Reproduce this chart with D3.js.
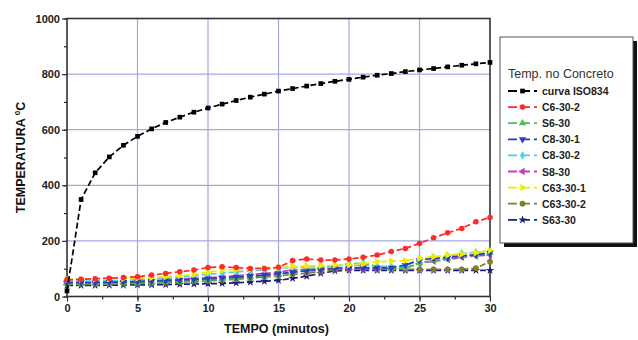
<!DOCTYPE html>
<html><head><meta charset="utf-8">
<script src="https://cdn.jsdelivr.net/npm/d3@7"></script>
<style>
html,body{margin:0;padding:0;background:#fff;}
svg{display:block;font-family:"Liberation Sans",Arial,sans-serif;}
</style></head>
<body><svg id="chart" width="638" height="340"></svg>
<script>
const minutes = [0,1,2,3,4,5,6,7,8,9,10,11,12,13,14,15,16,17,18,19,20,21,22,23,24,25,26,27,28,29,30];
const iso834   = [20,349,445,502,544,576,603,626,645,663,678,692,705,717,728,739,748,757,766,774,781,789,796,802,809,815,820,826,832,837,842];
const c6_30_2  = [60,62,64,66,68,71,77,83,89,95,104,107,104,101,101,105,129,135,131,131,135,141,149,162,173,191,211,229,245,269,284];
const s6_30    = [47,47,47,48,49,50,51,53,55,57,59,63,67,71,76,80,88,95,103,110,118,120,108,100,103,120,130,137,145,150,158];
const c8_30_1  = [50,50,50,51,52,53,55,57,59,61,64,67,70,73,77,82,87,92,97,101,104,103,103,103,113,131,137,140,147,150,157];
const c8_30_2  = [55,55,56,57,58,60,62,65,69,74,80,84,88,92,96,102,104,106,108,110,112,112,110,108,110,133,141,145,155,159,163];
const s8_30    = [52,52,52,53,54,55,57,59,62,65,67,71,75,79,83,88,95,97,99,101,102,101,100,100,102,119,127,133,141,146,149];
const c63_30_1 = [62,62,63,64,65,66,68,71,75,80,87,94,97,99,101,104,108,110,111,112,113,118,125,127,129,137,143,149,153,157,166];
const c63_30_2 = [45,45,45,46,46,47,48,50,52,54,56,59,62,66,70,74,79,84,90,96,98,98,98,98,98,98,98,98,98,102,125];
const s63_30   = [40,40,40,41,41,42,42,43,44,45,46,47,49,52,55,58,65,73,83,92,94,94,94,94,94,94,94,94,94,94,94];
const seriesNames = ["curva ISO834","C6-30-2","S6-30","C8-30-1","C8-30-2","S8-30","C63-30-1","C63-30-2","S63-30"];
const seriesValues = [iso834,c6_30_2,s6_30,c8_30_1,c8_30_2,s8_30,c63_30_1,c63_30_2,s63_30];
const xTicks = [0,5,10,15,20,25,30];
const yTicks = [0,200,400,600,800,1000];
const legendTitle = "Temp. no Concreto";

const colors = ["#000000","#ff2a2a","#4cbf4c","#2a3fbf","#4cd2e6","#c23fc2","#f0ec00","#7f7f2a","#1c1c80"];
const symbols = [
  {t:d3.symbolSquare,r:0,s:22},{t:d3.symbolCircle,r:0,s:24},{t:d3.symbolTriangle,r:0,s:24},
  {t:d3.symbolTriangle,r:180,s:24},{t:d3.symbolDiamond,r:0,s:22},{t:d3.symbolTriangle,r:-90,s:24},
  {t:d3.symbolTriangle,r:90,s:24},{t:d3.symbolCircle,r:0,s:26},{t:d3.symbolStar,r:0,s:22}];

const svg = d3.select("#chart");
const L=67,R=490,T=18.5,B=296.5;
const x = d3.scaleLinear().domain([0,30]).range([L,R]);
const y = d3.scaleLinear().domain([0,1000]).range([B,T]);

// grid
const g = svg.append("g");
g.selectAll("line.gx").data(xTicks.slice(1,-1)).enter().append("line")
  .attr("x1",d=>x(d)).attr("x2",d=>x(d)).attr("y1",T).attr("y2",B)
  .attr("stroke","#a4a8e0").attr("stroke-width",1.2);
g.selectAll("line.gy").data(yTicks.slice(1,-1)).enter().append("line")
  .attr("y1",d=>y(d)).attr("y2",d=>y(d)).attr("x1",L).attr("x2",R)
  .attr("stroke","#a4a8e0").attr("stroke-width",1.2);

// minor ticks
const xMinor = d3.range(0,30.01,2.5);
const yMinor = d3.range(0,1000.1,100);
svg.append("g").attr("transform",`translate(0,${B})`)
  .call(d3.axisBottom(x).tickValues(xMinor).tickSize(3).tickFormat(""))
  .call(a=>a.select(".domain").remove());
svg.append("g").attr("transform",`translate(${L},0)`)
  .call(d3.axisLeft(y).tickValues(yMinor).tickSize(3).tickFormat(""))
  .call(a=>a.select(".domain").remove());

// major axes
const xa = svg.append("g").attr("transform",`translate(0,${B})`)
  .call(d3.axisBottom(x).tickValues(xTicks).tickSize(5).tickPadding(3).tickFormat(d3.format("d")));
const ya = svg.append("g").attr("transform",`translate(${L},0)`)
  .call(d3.axisLeft(y).tickValues(yTicks).tickSize(5).tickPadding(2).tickFormat(d3.format("d")));
[xa,ya].forEach(a=>{a.selectAll("text").attr("font-size",11).attr("font-weight","bold").attr("fill","#222")
  .attr("font-family","'Liberation Sans',Arial,sans-serif");
  a.selectAll("line").attr("stroke","#333").attr("stroke-width",1.2);
  a.select(".domain").remove();});

// frame
svg.append("rect").attr("x",L).attr("y",T).attr("width",R-L).attr("height",B-T)
  .attr("fill","none").attr("stroke","#333").attr("stroke-width",1.6);

// series
const line = d3.line().x((d,i)=>x(minutes[i])).y(d=>y(d));
const order = [8,7,5,2,4,3,6,1,0];
order.forEach(k=>{
  const sg = svg.append("g");
  sg.append("path").datum(seriesValues[k]).attr("d",line).attr("fill","none")
    .attr("stroke",colors[k]).attr("stroke-width",1.7).attr("stroke-dasharray","6,3");
  sg.selectAll("path.m").data(seriesValues[k]).enter().append("path")
    .attr("d",d3.symbol().type(symbols[k].t).size(symbols[k].s))
    .attr("transform",(d,i)=>`translate(${x(minutes[i])},${y(d)}) rotate(${symbols[k].r})`)
    .attr("fill",colors[k]);
});

// axis titles
svg.append("text").attr("x",(L+R)/2-2).attr("y",333).attr("text-anchor","middle")
  .attr("font-size",12.5).attr("font-weight","bold").attr("fill","#111").text("TEMPO (minutos)");
const yt = svg.append("text").attr("transform",`translate(25,${(T+B)/2}) rotate(-90)`)
  .attr("text-anchor","middle").attr("font-size",12.5).attr("font-weight","bold").attr("fill","#111");
yt.append("tspan").text("TEMPERATURA ");
yt.append("tspan").attr("font-size",8).attr("dy",-5).text("0");
yt.append("tspan").attr("dy",5).text("C");

// legend
const lg = svg.append("g");
lg.append("rect").attr("x",504).attr("y",41).attr("width",133).attr("height",206).attr("fill","#111");
lg.append("rect").attr("x",500).attr("y",37).attr("width",133).attr("height",206)
  .attr("fill","#fff").attr("stroke","#555").attr("stroke-width",1);
lg.append("text").attr("x",508).attr("y",78).attr("font-size",12.5).attr("fill","#333").text(legendTitle);
seriesNames.forEach((n,k)=>{
  const cy = 91 + k*16.1;
  lg.append("line").attr("x1",508).attr("x2",537).attr("y1",cy).attr("y2",cy)
    .attr("stroke",colors[k]).attr("stroke-width",1.8).attr("stroke-dasharray","9,4");
  lg.append("path").attr("d",d3.symbol().type(symbols[k].t).size(symbols[k].s))
    .attr("transform",`translate(522.5,${cy}) rotate(${symbols[k].r})`).attr("fill",colors[k]);
  lg.append("text").attr("x",542).attr("y",cy+4).attr("font-size",10.5).attr("font-weight","bold")
    .attr("fill","#222").text(n);
});
</script></body></html>
